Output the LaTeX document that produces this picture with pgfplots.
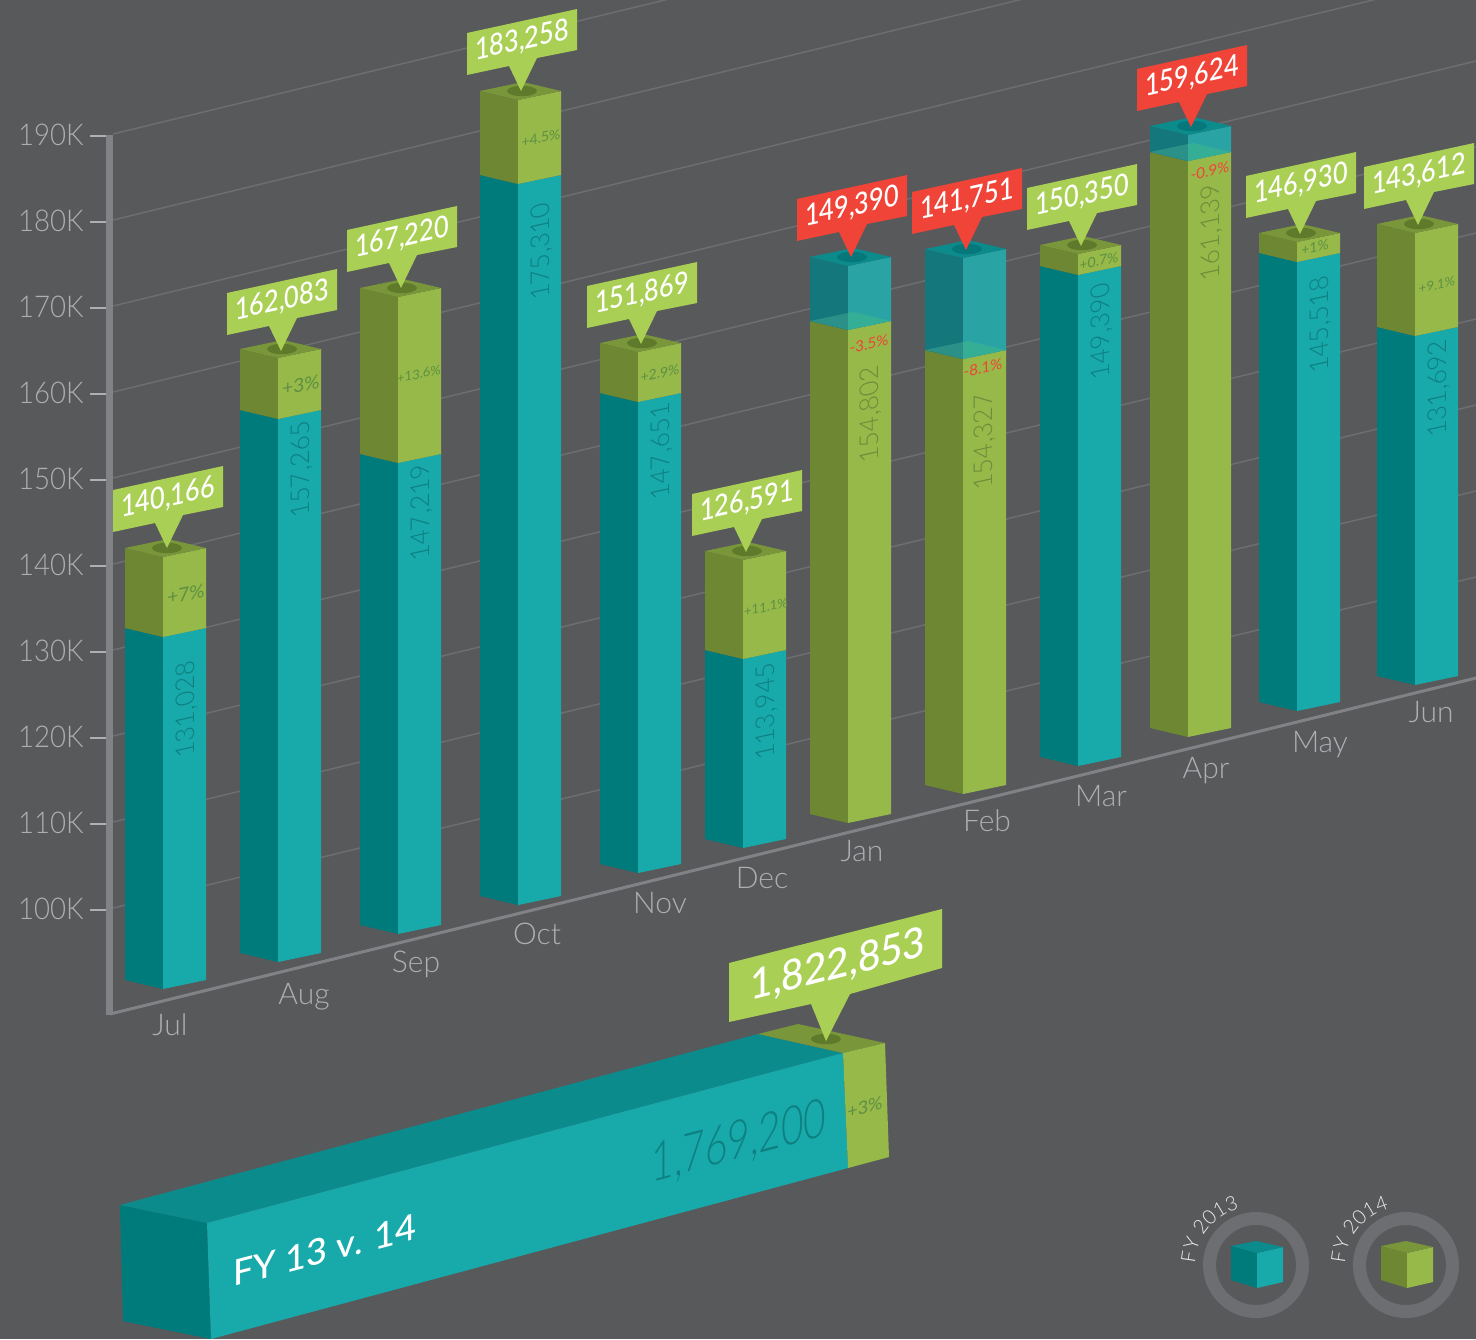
\documentclass[border=0pt]{standalone}
\usepackage{fontspec}
\usepackage{pgfplots}
\pgfplotsset{compat=1.18}
\usetikzlibrary{decorations.text}
\setmainfont{Lato}
\newfontfamily\lightf{Lato Light}
\newfontfamily\medf{Lato Medium}

\definecolor{bg}{HTML}{58595B}
\definecolor{tealL}{HTML}{007B7C}
\definecolor{tealR}{HTML}{18AAAA}
\definecolor{tealT}{HTML}{0C8B8D}
\definecolor{greenL}{HTML}{6D8733}
\definecolor{greenR}{HTML}{96B94A}
\definecolor{greenT}{HTML}{7A963B}
\definecolor{holeG}{HTML}{5F7A2B}
\definecolor{holeT}{HTML}{06777A}
\definecolor{glassL}{HTML}{14777B}
\definecolor{glassR}{HTML}{2AA3A5}
\definecolor{glassDL}{HTML}{2A9088}
\definecolor{glassDR}{HTML}{35AE96}
\definecolor{tagG}{HTML}{A9CF54}
\definecolor{tagR}{HTML}{F04438}
\definecolor{axisc}{HTML}{808285}
\definecolor{gridc}{HTML}{6D6E71}
\definecolor{labc}{HTML}{ADAFB2}
\definecolor{numT}{HTML}{0E8082}
\definecolor{numG}{HTML}{6F8C3A}
\definecolor{pctG}{HTML}{5F9042}
\definecolor{ringc}{HTML}{6D6E71}

% all shapes are given in picture pixels, y running down
\def\n#1{\the\numexpr#1\relax}
\newcommand\poly[2]{\edef\tmp{#2}\expandafter\polyi\expandafter{\tmp}{#1}}
\newcommand\polyi[2]{\addplot[fill=#2,draw=none,forget plot] coordinates {#1} --cycle;}

% left edge, top, split, bottom (y of the left corner)
\newcommand\tealbar[4]{%
  \poly{tealL}{(#1,#3) (\n{#1+38},\n{#3+9}) (\n{#1+38},\n{#4+9}) (#1,#4)}
  \poly{tealR}{(\n{#1+38},\n{#3+9}) (\n{#1+81},#3) (\n{#1+81},#4) (\n{#1+38},\n{#4+9})}
  \poly{greenL}{(#1,#2) (\n{#1+38},\n{#2+9}) (\n{#1+38},\n{#3+9}) (#1,#3)}
  \poly{greenR}{(\n{#1+38},\n{#2+9}) (\n{#1+81},#2) (\n{#1+81},#3) (\n{#1+38},\n{#3+9})}
  \poly{greenT}{(#1,#2) (\n{#1+38},\n{#2+9}) (\n{#1+81},#2) (\n{#1+43},\n{#2-9})}
  \fill[holeG] (axis cs:\n{#1+42},#2) ellipse [x radius=7.5pt,y radius=2.6pt];
}
\newcommand\greenbar[4]{%
  \poly{greenL}{(#1,#3) (\n{#1+38},\n{#3+9}) (\n{#1+38},\n{#4+9}) (#1,#4)}
  \poly{greenR}{(\n{#1+38},\n{#3+9}) (\n{#1+81},#3) (\n{#1+81},#4) (\n{#1+38},\n{#4+9})}
  \poly{glassL}{(#1,#2) (\n{#1+38},\n{#2+9}) (\n{#1+38},\n{#3+9}) (#1,#3)}
  \poly{glassR}{(\n{#1+38},\n{#2+9}) (\n{#1+81},#2) (\n{#1+81},#3) (\n{#1+38},\n{#3+9})}
  \poly{glassDL}{(#1,#3) (\n{#1+38},\n{#3+9}) (\n{#1+38},\n{#3-8})}
  \poly{glassDR}{(\n{#1+38},\n{#3+9}) (\n{#1+81},#3) (\n{#1+43},\n{#3-9}) (\n{#1+38},\n{#3-8})}
  \poly{tealT}{(#1,#2) (\n{#1+38},\n{#2+9}) (\n{#1+81},#2) (\n{#1+43},\n{#2-9})}
  \fill[holeT] (axis cs:\n{#1+42},#2) ellipse [x radius=7.5pt,y radius=2.6pt];
}
% colour, tip x, tip y, text
\newcommand\tag[4]{%
  \poly{#1}{(\n{#2-54},\n{#3-58}) (\n{#2+56},\n{#3-82}) (\n{#2+56},\n{#3-41}) (\n{#2+16},\n{#3-33}) (#2,#3) (\n{#2-12},\n{#3-25}) (\n{#2-54},\n{#3-16})}
  \node[yslant=0.22,xscale=0.84,text=white,font=\medf\fontsize{15}{15}\selectfont,inner sep=0pt] at (axis cs:\n{#2+1},\n{#3-50}) {#4};
}
% x, y, colour, text
\newcommand\barnum[4]{\node[rotate=90,xslant=-0.22,text=#3,font=\lightf\fontsize{13}{13}\selectfont,inner sep=0pt] at (axis cs:\n{#1+1},\n{#2+1}) {#4};}
% x, y, colour, size, text
\newcommand\pct[5]{\node[yslant=0.22,text=#3,font=\fontsize{#4}{#4}\selectfont,inner sep=0pt] at (axis cs:#1,#2) {#5};}
\newcommand\ylab[2]{%
  \addplot[gridc,line width=.75pt,forget plot] coordinates {(113,\n{#1-2}) (1476,\n{#1-333})};
  \addplot[labc,line width=1pt,forget plot] coordinates {(90,#1) (106,#1)};
  \node[anchor=east,xscale=0.92,text=labc,font=\lightf\fontsize{15}{15}\selectfont,inner sep=0pt] at (axis cs:84,\n{#1-1}) {#2};
}
\newcommand\mon[3]{\node[text=labc,font=\lightf\fontsize{15}{15}\selectfont,inner sep=0pt] at (axis cs:#1,#2) {#3};}
% x offset, left, right, top colours
\newcommand\cube[4]{%
  \poly{#2}{(\n{1231+#1},1246) (\n{1257+#1},1253) (\n{1257+#1},1288) (\n{1231+#1},1280)}
  \poly{#3}{(\n{1257+#1},1253) (\n{1283+#1},1247) (\n{1283+#1},1282) (\n{1257+#1},1288)}
  \poly{#4}{(\n{1231+#1},1246) (\n{1256+#1},1241) (\n{1283+#1},1247) (\n{1257+#1},1253)}
  \draw[ringc,line width=6.5pt] (axis cs:\n{1256+#1},1265) circle [radius=23.25pt];
}

\begin{document}
\begin{tikzpicture}
\begin{axis}[
  x=0.5pt,y=0.5pt,
  xmin=0,xmax=1476,ymin=0,ymax=1339,
  y dir=reverse,
  hide axis,
  axis background/.style={fill=bg},
]
\ylab{136}{190K}
\ylab{222}{180K}
\ylab{308}{170K}
\ylab{394}{160K}
\ylab{480}{150K}
\ylab{566}{140K}
\ylab{652}{130K}
\ylab{738}{120K}
\ylab{824}{110K}
\ylab{910}{100K}

\addplot[axisc,line width=1.5pt,forget plot] coordinates {(110,1014) (1476,678)};
\addplot[axisc,line width=3.5pt,forget plot] coordinates {(109,135) (109,1015)};

\tealbar{125}{548}{628}{980}
\tealbar{240}{349}{410}{953}
\tealbar{360}{288}{454}{925}
\tealbar{480}{91}{175}{896}
\tealbar{600}{343}{393}{864}
\tealbar{705}{551}{650}{839}
\greenbar{810}{257}{321}{814}
\greenbar{925}{249}{350}{785}
\tealbar{1040}{245}{266}{757}
\greenbar{1150}{126}{152}{728}
\tealbar{1259}{233}{253}{702}
\tealbar{1377}{224}{327}{676}

\barnum{186}{708}{numT}{131,028}
\barnum{301}{468}{numT}{157,265}
\barnum{421}{511}{numT}{147,219}
\barnum{541}{250}{numT}{175,310}
\barnum{661}{450}{numT}{147,651}
\barnum{766}{710}{numT}{113,945}
\barnum{870}{413}{numG}{154,802}
\barnum{984}{440}{numG}{154,327}
\barnum{1101}{330}{numT}{149,390}
\barnum{1211}{231}{numG}{161,139}
\barnum{1320}{323}{numT}{145,518}
\barnum{1438}{387}{numT}{131,692}

\pct{186}{594}{pctG}{9.5}{+7\%}
\pct{301}{385}{pctG}{9.5}{+3\%}
\pct{419}{374}{pctG}{6.5}{+13.6\%}
\pct{541}{138}{pctG}{7}{+4.5\%}
\pct{660}{373}{pctG}{7}{+2.9\%}
\pct{766}{607}{pctG}{6.5}{+11.1\%}
\pct{869}{344}{tagR}{7.5}{-3.5\%}
\pct{983}{368}{tagR}{7.5}{-8.1\%}
\pct{1099}{261}{pctG}{7}{+0.7\%}
\pct{1210}{171}{tagR}{7.5}{-0.9\%}
\pct{1315}{247}{pctG}{7}{+1\%}
\pct{1437}{285}{pctG}{6.5}{+9.1\%}

\tag{tagG}{167}{548}{140,166}
\tag{tagG}{281}{351}{162,083}
\tag{tagG}{401}{288}{167,220}
\tag{tagG}{521}{91}{183,258}
\tag{tagG}{641}{344}{151,869}
\tag{tagG}{746}{552}{126,591}
\tag{tagR}{851}{257}{149,390}
\tag{tagR}{966}{250}{141,751}
\tag{tagG}{1081}{246}{150,350}
\tag{tagR}{1191}{127}{159,624}
\tag{tagG}{1300}{234}{146,930}
\tag{tagG}{1418}{225}{143,612}

\mon{170}{1025}{Jul}
\mon{304}{997}{Aug}
\mon{416}{964}{Sep}
\mon{537}{934}{Oct}
\mon{660}{903}{Nov}
\mon{762}{878}{Dec}
\mon{862}{851}{Jan}
\mon{987}{821}{Feb}
\mon{1101}{796}{Mar}
\mon{1206}{771}{Apr}
\mon{1320}{745}{May}
\mon{1431}{712}{Jun}

% FY total bar
\poly{tealL}{(120,1205) (207,1223) (211,1339) (123,1321)}
\poly{tealT}{(120,1205) (207,1223) (843,1053) (758,1034)}
\poly{tealR}{(207,1223) (843,1053) (848,1168) (211,1339)}
\poly{greenT}{(758,1034) (843,1053) (885,1043) (798,1024)}
\poly{greenR}{(843,1053) (885,1043) (889,1157) (848,1168)}
\fill[holeG] (axis cs:826,1039) ellipse [x radius=7.5pt,y radius=2.6pt];
\poly{tagG}{(729,963) (942,909) (942,968) (850,994) (826,1041) (811,1004) (729,1022)}
\node[yslant=0.255,xscale=0.92,text=white,font=\medf\fontsize{21}{21}\selectfont,inner sep=0pt] at (axis cs:838,966) {1,822,853};
\node[yslant=0.264,xscale=0.72,text=numT,font=\lightf\fontsize{27}{27}\selectfont,inner sep=0pt] at (axis cs:739,1143) {1,769,200};
\node[yslant=0.26,text=white,font=\medf\fontsize{18}{18}\selectfont,inner sep=0pt] at (axis cs:325,1250) {FY 13 v. 14};
\node[yslant=0.26,text=pctG,font=\fontsize{9}{9}\selectfont,inner sep=0pt] at (axis cs:865,1107) {+3\%};

% legend
\cube{0}{tealL}{tealR}{tealT}
\cube{150}{greenL}{greenR}{greenT}
\path[decorate,decoration={text along path,text align=center,
  text={|\lightf\fontsize{10}{10}\selectfont\color{white!92!black}|FY 2013}}]
  (axis cs:1196,1276) arc [start angle=190,end angle=92,radius=29.5pt];
\path[decorate,decoration={text along path,text align=center,
  text={|\lightf\fontsize{10}{10}\selectfont\color{white!92!black}|FY 2014}}]
  (axis cs:1346,1276) arc [start angle=190,end angle=92,radius=29.5pt];
\end{axis}
\end{tikzpicture}
\end{document}
